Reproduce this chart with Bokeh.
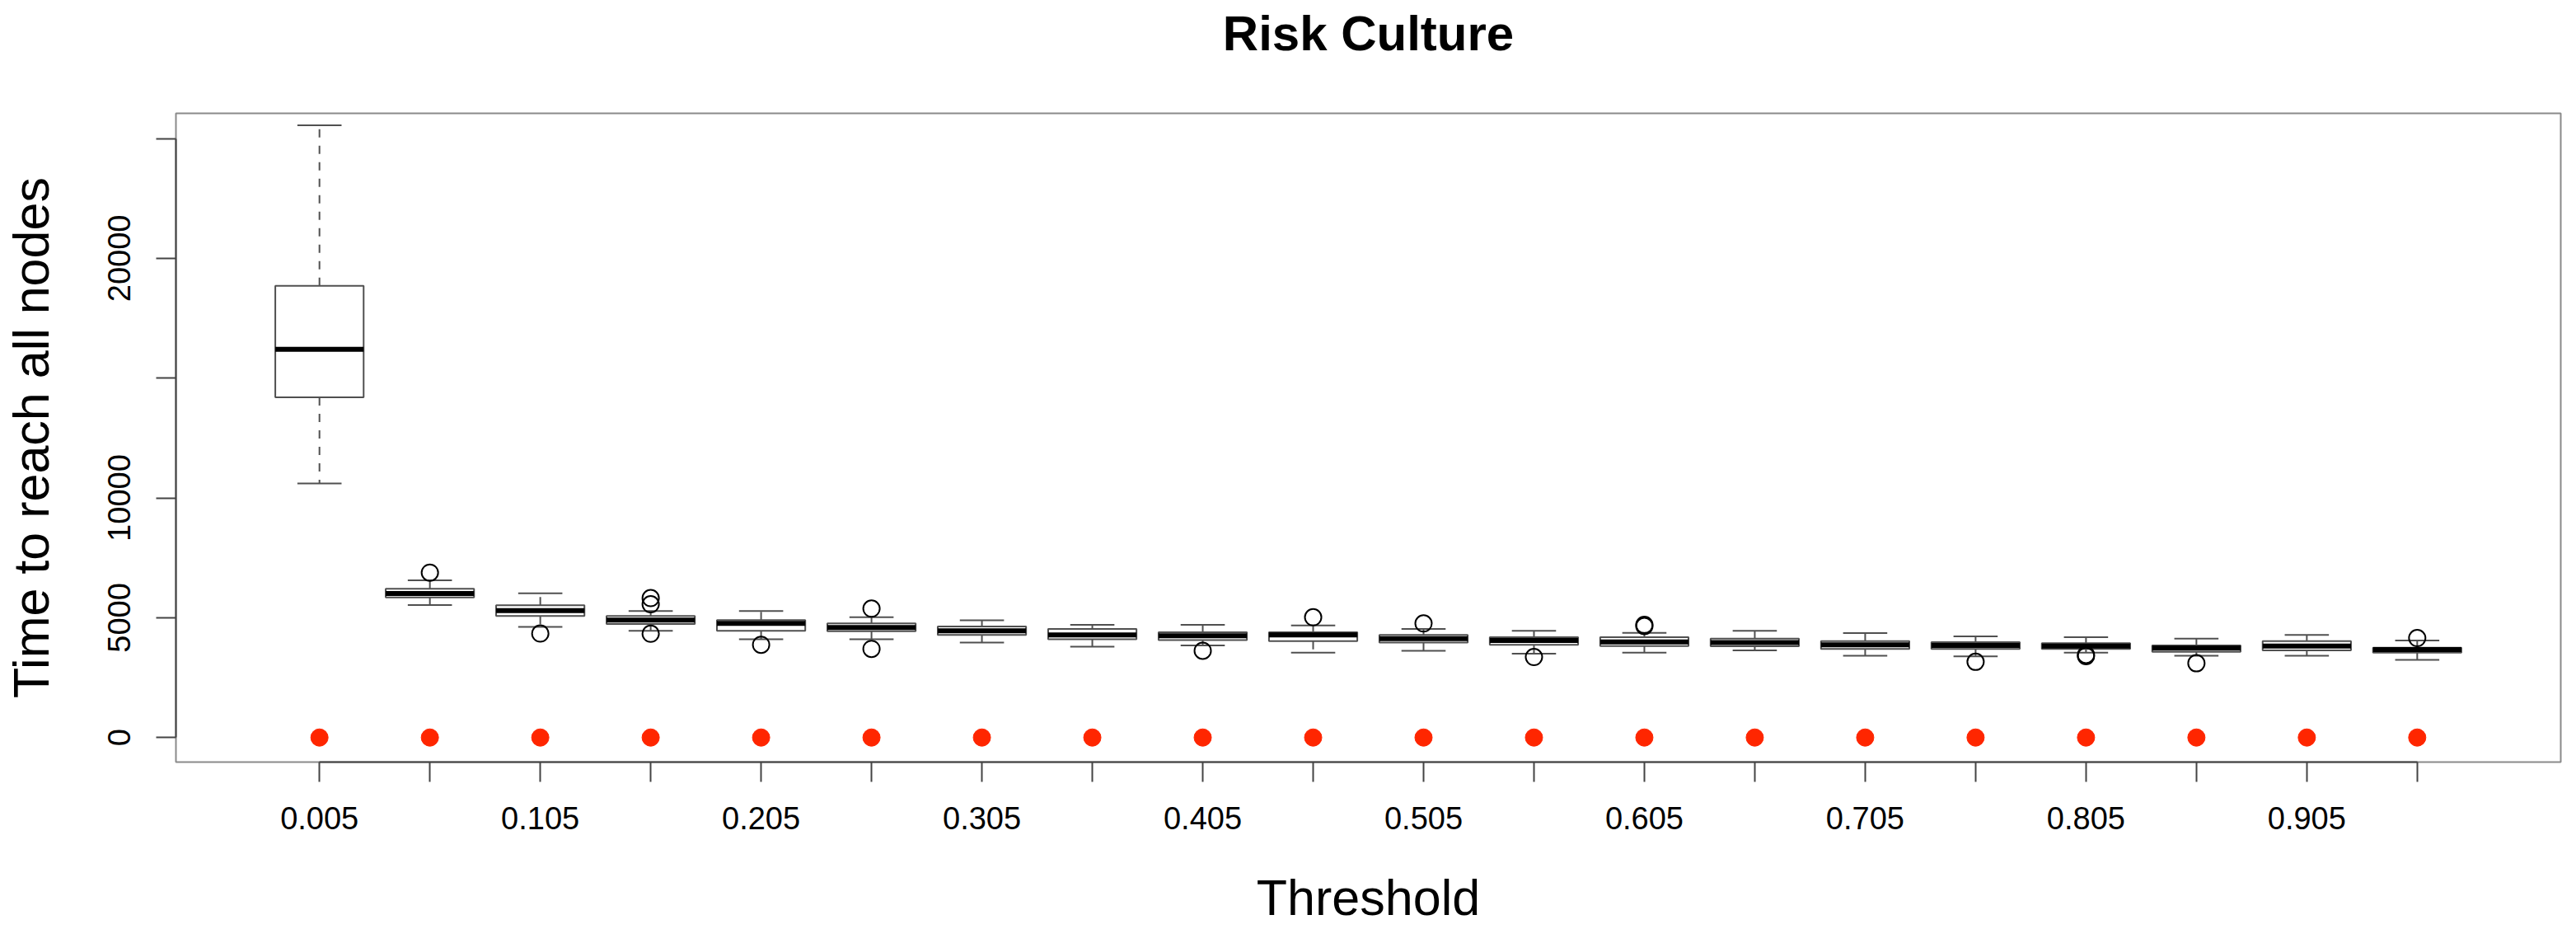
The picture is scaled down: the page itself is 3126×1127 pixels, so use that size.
from bokeh.plotting import figure
from bokeh.models import Range1d, FixedTicker, ColumnDataSource, Title
from bokeh.embed import file_html
from bokeh.resources import INLINE

# ---------------- data ----------------
thresholds = [0.005, 0.055, 0.105, 0.155, 0.205, 0.255, 0.305, 0.355, 0.405, 0.455,
              0.505, 0.555, 0.605, 0.655, 0.705, 0.755, 0.805, 0.855, 0.905, 0.955]
lower_whisker = [10600, 5530, 4620, 4450, 4100, 4100, 3960, 3790, 3840, 3540,
                 3620, 3500, 3540, 3640, 3410, 3390, 3540, 3410, 3410, 3240]
q1 = [14200, 5850, 5070, 4740, 4450, 4440, 4280, 4100, 4070, 4020,
      3960, 3870, 3820, 3810, 3700, 3700, 3700, 3580, 3640, 3540]
median = [16200, 6010, 5300, 4900, 4760, 4590, 4450, 4280, 4250, 4280,
          4130, 4050, 3990, 3960, 3870, 3840, 3820, 3730, 3820, 3670]
q3 = [18850, 6210, 5520, 5070, 4900, 4760, 4630, 4530, 4390, 4390,
      4280, 4190, 4190, 4130, 4020, 3980, 3940, 3840, 4020, 3750]
upper_whisker = [25550, 6560, 6020, 5280, 5280, 5020, 4890, 4700, 4700, 4680,
                 4530, 4450, 4370, 4450, 4360, 4220, 4190, 4130, 4280, 4050]
# outliers: category position (1-based) and value
outlier_cat = [2, 3, 4, 4, 4, 5, 6, 6, 9, 10, 11, 12, 13, 13, 16, 17, 17, 18, 20]
outlier_val = [6880, 4340, 5820, 5560, 4330, 3870, 5380, 3700, 3620, 5020,
               4760, 3360, 4650, 4700, 3160, 3450, 3400, 3100, 4150]
# red points drawn at zero for every threshold
red_points = [0, 0, 0, 0, 0, 0, 0, 0, 0, 0, 0, 0, 0, 0, 0, 0, 0, 0, 0, 0]
y_ticks = [0, 5000, 10000, 15000, 20000, 25000]
y_tick_labels = ["0", "5000", "10000", "", "20000", ""]

# ---------------- figure ----------------
FONT = "Liberation Sans"
BOX_W = 0.8
CAP_W = 0.4
pos = list(range(1, len(thresholds) + 1))

W, H = 3126, 1127
BL, BR, BT, BB = 213, 19, 137, 203

p = figure(width=W, height=H, output_backend="svg", toolbar_location=None,
           x_range=Range1d(-0.3, 21.3), y_range=Range1d(-1025, 26050),
           min_border_left=BL, min_border_right=BR, min_border_top=BT, min_border_bottom=BB)
p.xgrid.visible = False
p.ygrid.visible = False
p.outline_line_color = "#8a8a8a"
p.outline_line_width = 2
p.background_fill_color = "white"
p.border_fill_color = "white"

# spacer between frame and title, then the title itself (further from the frame)
p.add_layout(Title(text=" ", text_font=FONT, text_font_size="20px", standoff=40), "above")
p.add_layout(Title(text="Risk Culture", align="center", text_font=FONT,
                   text_font_size="60px", text_font_style="bold", text_color="black",
                   standoff=0), "above")

src = ColumnDataSource(dict(
    x=pos, lw=lower_whisker, q1=q1, med=median, q3=q3, uw=upper_whisker,
    xl=[v - BOX_W / 2 for v in pos], xr=[v + BOX_W / 2 for v in pos],
    cl=[v - CAP_W / 2 for v in pos], cr=[v + CAP_W / 2 for v in pos],
    zero=red_points,
))

LC = "#505050"
# whiskers (dashed)
p.segment(x0="x", y0="q3", x1="x", y1="uw", source=src, line_color=LC, line_width=2, line_dash="10 10")
p.segment(x0="x", y0="q1", x1="x", y1="lw", source=src, line_color=LC, line_width=2, line_dash="10 10")
# caps
p.segment(x0="cl", y0="uw", x1="cr", y1="uw", source=src, line_color=LC, line_width=2)
p.segment(x0="cl", y0="lw", x1="cr", y1="lw", source=src, line_color=LC, line_width=2)
# boxes
p.quad(left="xl", right="xr", bottom="q1", top="q3", source=src,
       fill_color=None, line_color=LC, line_width=2)
# medians
p.segment(x0="xl", y0="med", x1="xr", y1="med", source=src, line_color="black", line_width=6)
# outliers
p.scatter(x=outlier_cat, y=outlier_val, size=20, marker="circle",
          fill_color=None, line_color="black", line_width=2)
# red points
p.scatter(x="x", y="zero", source=src, size=21, marker="circle",
          fill_color="#FF2600", line_color="#FF2600")

# axes
p.xaxis.ticker = FixedTicker(ticks=pos)
p.xaxis.major_label_overrides = {i + 1: (f"{t:.3f}" if i % 2 == 0 else "") for i, t in enumerate(thresholds)}
p.xaxis.bounds = (1, len(thresholds))
p.yaxis.ticker = FixedTicker(ticks=y_ticks)
p.yaxis.major_label_overrides = {t: l for t, l in zip(y_ticks, y_tick_labels)}
p.yaxis.bounds = (0, 25000)
p.yaxis.major_label_orientation = "vertical"

for ax in (p.xaxis[0], p.yaxis[0]):
    ax.axis_line_color = "#444444"
    ax.axis_line_width = 2
    ax.major_tick_line_color = "#444444"
    ax.major_tick_line_width = 2
    ax.major_tick_out = 24
    ax.major_tick_in = 0
    ax.minor_tick_line_color = None
    ax.major_label_text_font = FONT
    ax.major_label_text_font_size = "38px"
    ax.major_label_text_color = "black"
    ax.axis_label_text_font = FONT
    ax.axis_label_text_font_size = "61px"
    ax.axis_label_text_font_style = "normal"
    ax.axis_label_text_color = "black"

p.xaxis.axis_label = "Threshold"
p.yaxis.axis_label = "Time to reach all nodes"
p.xaxis.major_label_standoff = 30
p.xaxis.axis_label_standoff = 46
p.yaxis.major_label_standoff = 31
p.yaxis.axis_label_standoff = 57
p.yaxis.axis_label_text_line_height = 1.0
p.yaxis.major_label_text_line_height = 1.0

open("out.html", "w").write(file_html(p, INLINE))
